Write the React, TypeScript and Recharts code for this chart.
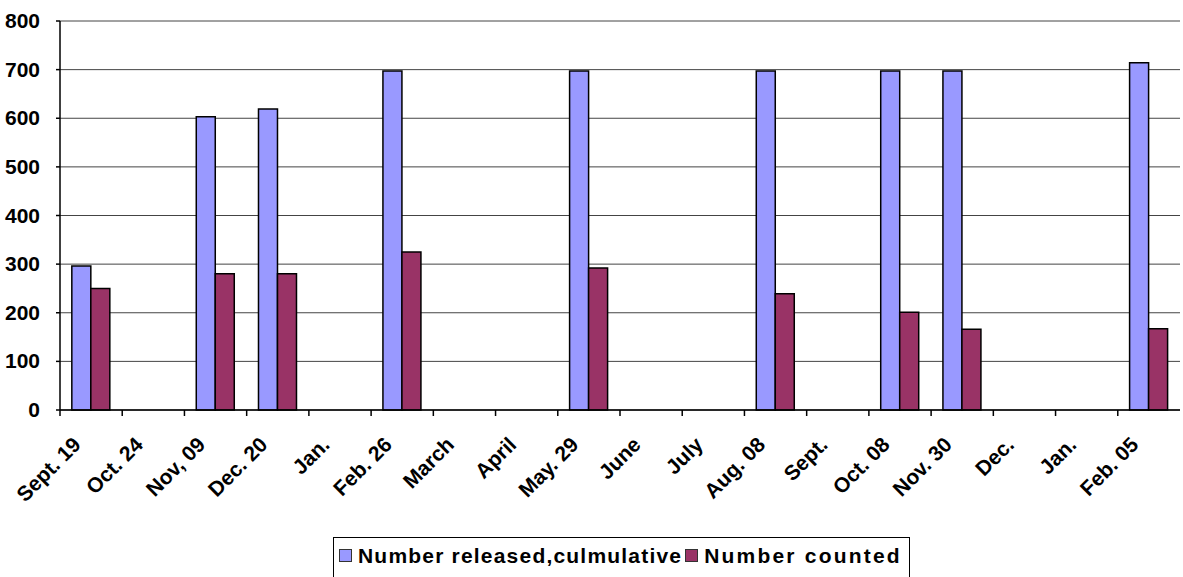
import React from 'react';
import { BarChart, Bar, XAxis, YAxis, CartesianGrid } from 'recharts';

const dates = [
  'Sept. 19', 'Oct. 24', 'Nov, 09', 'Dec. 20', 'Jan.', 'Feb. 26', 'March', 'April', 'May. 29',
  'June', 'July', 'Aug. 08', 'Sept.', 'Oct. 08', 'Nov. 30', 'Dec.', 'Jan.', 'Feb. 05',
];
const released = [296, null, 603, 619, null, 697, null, null, 697, null, null, 697, null, 697, 697, null, null, 714];
const counted = [250, null, 280, 280, null, 325, null, null, 292, null, null, 239, null, 201, 166, null, null, 167];
const yTicks = [0, 100, 200, 300, 400, 500, 600, 700, 800];

const W = 1183;
const H = 577;
const LEFT = 60;
const RIGHT = 3;
const band = (W - LEFT - RIGHT) / dates.length;

const rows = dates.map((d, i) => ({ d, released: released[i], counted: counted[i] }));

const FONT = 'Liberation Sans, Arial, sans-serif';

// rotated label + tick mark on the category boundary
function DateTick({ x, y, payload }: any) {
  const ax = x - 9;
  const ay = y + 28;
  return (
    <g>
      <line x1={x - band / 2} y1={y - 8} x2={x - band / 2} y2={y - 2} stroke="#000" strokeWidth={1.5} />
      <text
        x={ax}
        y={ay}
        transform={`rotate(-45, ${ax}, ${ay})`}
        textAnchor="end"
        fontFamily={FONT}
        fontWeight="bold"
        fontSize={21}
        fill="#000"
      >
        {payload.value}
      </text>
    </g>
  );
}

function YTick({ x, y, payload }: any) {
  return (
    <text x={x - 14} y={y + 7} textAnchor="end" fontFamily={FONT} fontWeight="bold" fontSize={21} fill="#000">
      {payload.value}
    </text>
  );
}

function LegendBox() {
  const item = (color: string, label: string, ls: number) => (
    <span style={{ display: 'inline-flex', alignItems: 'center', marginRight: 3, letterSpacing: ls }}>
      <span style={{ width: 13, height: 13, background: color, border: '1.5px solid #333', marginRight: 6, boxSizing: 'border-box' }} />
      {label}
    </span>
  );
  return (
    <div
      style={{
        position: 'absolute', left: 333, top: 537, width: 577, height: 50,
        border: '1.5px solid #000', boxSizing: 'border-box', background: '#fff',
        fontFamily: FONT, fontWeight: 'bold', fontSize: 21,
        paddingLeft: 5, paddingTop: 5, whiteSpace: 'nowrap',
      }}
    >
      {item('#9999ff', 'Number released,culmulative', 1.2)}
      {item('#993366', 'Number counted', 2.2)}
    </div>
  );
}

export default function App() {
  return (
    <div style={{ position: 'absolute', left: 0, top: 0, width: W, height: H, background: '#fff', overflow: 'hidden' }}>
      <BarChart
        width={W}
        height={H}
        data={rows}
        margin={{ top: 21, right: RIGHT, bottom: 0, left: 0 }}
        barGap={0}
        barCategoryGap="19%"
      >
        <CartesianGrid vertical={false} stroke="#444" strokeWidth={1} />
        <XAxis
          dataKey="d"
          interval={0}
          height={167}
          tickLine={false}
          axisLine={{ stroke: '#000', strokeWidth: 1.5 }}
          tick={<DateTick />}
        />
        <YAxis
          domain={[0, 800]}
          ticks={yTicks}
          width={LEFT}
          tickSize={4}
          tickLine={{ stroke: '#000', strokeWidth: 1.5 }}
          axisLine={{ stroke: '#000', strokeWidth: 1.5 }}
          tick={<YTick />}
        />
        <Bar dataKey="released" fill="#9999ff" stroke="#000" strokeWidth={1.5} isAnimationActive={false} />
        <Bar dataKey="counted" fill="#993366" stroke="#000" strokeWidth={1.5} isAnimationActive={false} />
      </BarChart>
      <LegendBox />
    </div>
  );
}
